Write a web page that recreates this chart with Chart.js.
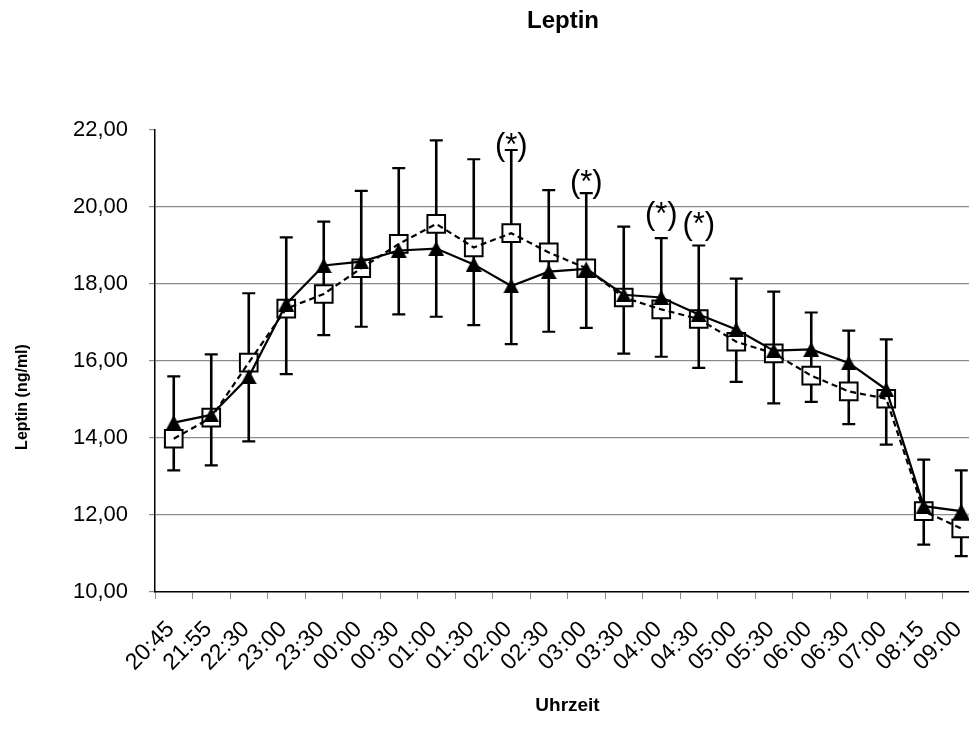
<!DOCTYPE html>
<html><head><meta charset="utf-8">
<script src="https://cdn.jsdelivr.net/npm/chart.js@4.4.0/dist/chart.umd.min.js"></script>
<style>
html,body{margin:0;padding:0;background:#fff;overflow:hidden;width:969px;height:744px}
#wrap{width:969px;height:744px;overflow:hidden;position:relative}
canvas{display:block}
</style></head><body>
<div id="wrap"><canvas id="c" width="1126" height="744"></canvas></div>
<script>
const categories = ['20:45','21:55','22:30','23:00','23:30','00:00','00:30','01:00','01:30','02:00','02:30','03:00','03:30','04:00','04:30','05:00','05:30','06:00','06:30','07:00','08:15','09:00'];
const triangleSeries = [14.40, 14.60, 15.59, 17.48, 18.48, 18.58, 18.87, 18.92, 18.51, 17.95, 18.32, 18.39, 17.72, 17.65, 17.21, 16.82, 16.27, 16.30, 15.95, 15.26, 12.23, 12.10];
const squareSeries = [13.98, 14.53, 15.96, 17.36, 17.74, 18.41, 19.04, 19.56, 18.95, 19.32, 18.82, 18.41, 17.65, 17.34, 17.09, 16.50, 16.20, 15.62, 15.21, 15.02, 12.10, 11.65];
const errorTop = [15.60, 16.17, 17.76, 19.21, 19.62, 20.42, 21.01, 21.73, 21.24, 21.48, 20.44, 20.36, 19.49, 19.19, 19.00, 18.14, 17.80, 17.26, 16.79, 16.56, 13.44, 13.16];
const errorBottom = [13.16, 13.29, 13.91, 15.66, 16.67, 16.89, 17.21, 17.15, 16.93, 16.44, 16.76, 16.86, 16.19, 16.11, 15.82, 15.46, 14.90, 14.94, 14.36, 13.83, 11.23, 10.93];
const starCategories = ['02:00', '03:00', '04:00', '04:30'];
const starLevels = [21.56, 20.62, 19.79, 19.51];
const starLabel = '(*)';
const chartTitle = 'Leptin';
const yTitle = 'Leptin (ng/ml)';
const xTitle = 'Uhrzeit';
const yMin = 10, yMax = 22, yStep = 2;

const FAM = '"Liberation Sans", Arial, sans-serif';

function makeTriangle(w, h) {
  const c = document.createElement('canvas');
  c.width = w; c.height = h;
  const g = c.getContext('2d');
  g.fillStyle = '#000';
  g.beginPath();
  g.moveTo(w / 2, 0); g.lineTo(w, h); g.lineTo(0, h); g.closePath();
  g.fill();
  return c;
}
const tri = makeTriangle(16, 15);

const errorBars = {
  id: 'errorBars',
  beforeDatasetsDraw(chart) {
    const {ctx, scales: {x, y}} = chart;
    ctx.save();
    ctx.strokeStyle = '#000';
    for (let i = 0; i < categories.length; i++) {
      const px = x.getPixelForValue(i);
      const yt = y.getPixelForValue(errorTop[i]);
      const yb = y.getPixelForValue(errorBottom[i]);
      ctx.lineWidth = 2.6;
      ctx.beginPath(); ctx.moveTo(px, yt); ctx.lineTo(px, yb); ctx.stroke();
      ctx.lineWidth = 2.2;
      ctx.beginPath();
      ctx.moveTo(px - 6.5, yt); ctx.lineTo(px + 6.5, yt);
      ctx.moveTo(px - 6.5, yb); ctx.lineTo(px + 6.5, yb);
      ctx.stroke();
    }
    ctx.restore();
  }
};

const extraText = {
  id: 'extraText',
  afterDraw(chart) {
    const {ctx, scales: {x, y}} = chart;
    ctx.save();
    ctx.fillStyle = '#000';
    ctx.textAlign = 'center';
    ctx.textBaseline = 'middle';
    ctx.font = '31px ' + FAM;
    starCategories.forEach((c, k) => {
      const i = categories.indexOf(c);
      ctx.fillText(starLabel, x.getPixelForValue(i), y.getPixelForValue(starLevels[k]));
    });
    ctx.font = 'bold 24px ' + FAM;
    ctx.fillText(chartTitle, 563, 21);
    ctx.translate(23, 397);
    ctx.rotate(-Math.PI / 2);
    ctx.font = 'bold 16px ' + FAM;
    ctx.fillText(yTitle, 0, 0);
    ctx.restore();
  }
};

new Chart(document.getElementById('c'), {
  type: 'line',
  data: {
    labels: categories,
    datasets: [
      {
        label: 'A',
        data: triangleSeries,
        order: 1,
        borderColor: '#000', borderWidth: 2.2,
        pointStyle: tri, pointRadius: 8,
        pointBackgroundColor: '#000', pointBorderColor: '#000',
        tension: 0, fill: false
      },
      {
        label: 'B',
        data: squareSeries,
        order: 2,
        borderColor: '#000', borderWidth: 2.2, borderDash: [6, 4],
        pointRadius: 0,
        tension: 0, fill: false
      },
      {
        label: 'B markers',
        data: squareSeries,
        order: 3,
        showLine: false,
        pointStyle: 'rect', pointRadius: 12.5, pointBorderWidth: 2,
        pointBackgroundColor: '#fff', pointBorderColor: '#000'
      }
    ]
  },
  options: {
    responsive: false,
    animation: false,
    events: [],
    layout: {padding: {left: 0, right: 146, top: 130, bottom: 0}},
    plugins: {
      legend: {display: false},
      tooltip: {enabled: false},
      title: {display: false}
    },
    scales: {
      x: {
        type: 'category', offset: true,
        grid: {display: true, drawOnChartArea: false, drawTicks: true, tickLength: 7, color: '#8c8c8c', offset: true},
        border: {display: true, color: '#000', width: 1.5},
        ticks: {autoSkip: false, minRotation: 45, maxRotation: 45, color: '#000', font: {family: FAM, size: 23}, labelOffset: -3, padding: 17},
        title: {display: true, text: xTitle, color: '#000', font: {family: FAM, size: 19, weight: 'bold'}, padding: {top: 0, bottom: 27}},
        afterFit(s) { s.height = 152; }
      },
      y: {
        min: yMin, max: yMax,
        grid: {
          color: (c) => (c.tick && (c.tick.value === yMax || c.tick.value === yMin)) ? 'rgba(0,0,0,0)' : '#8c8c8c',
          tickColor: '#8c8c8c', tickLength: 6, lineWidth: 1.2
        },
        border: {display: true, color: '#000', width: 1.5},
        ticks: {stepSize: yStep, color: '#000', font: {family: FAM, size: 22}, padding: 21,
          callback: (v) => v.toFixed(2).replace('.', ',')},
        afterFit(s) { s.width = 155; }
      }
    }
  },
  plugins: [errorBars, extraText]
});
</script>
</body></html>
